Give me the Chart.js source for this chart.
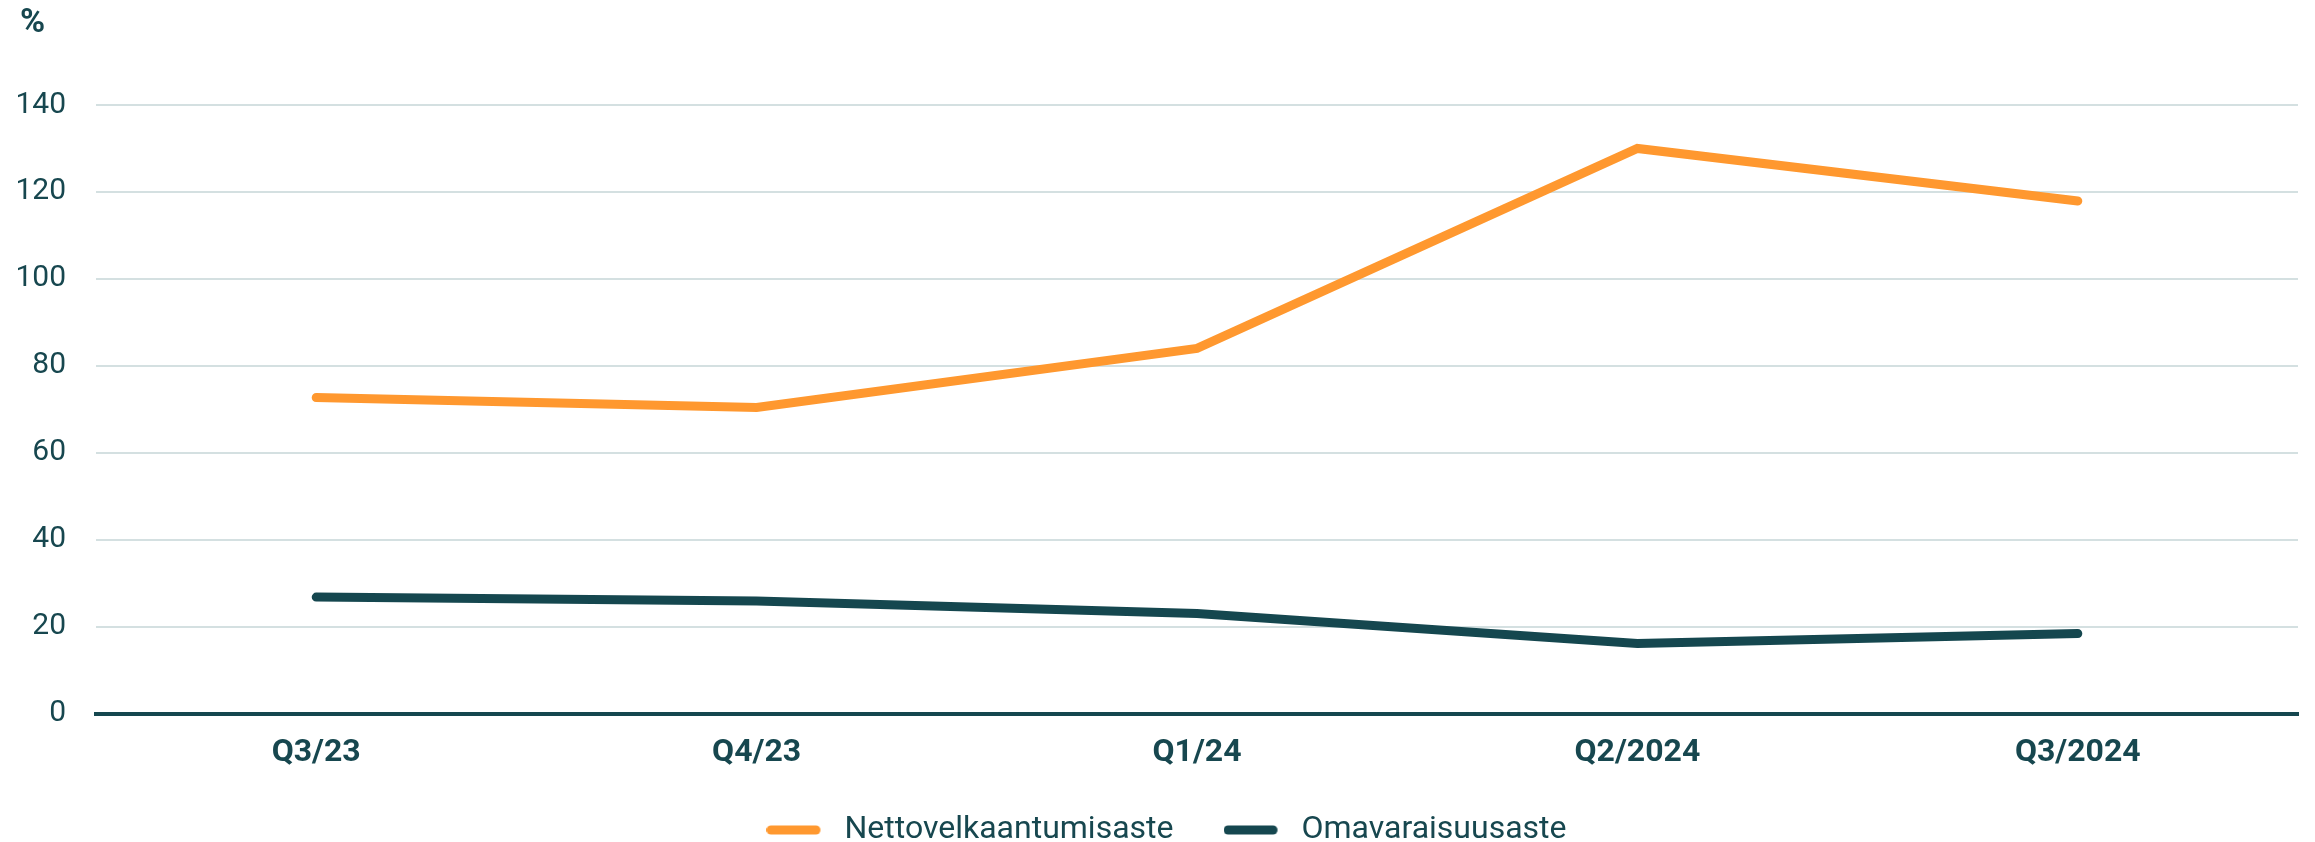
<!DOCTYPE html>
<html>
<head>
<meta charset="utf-8">
<script src="https://cdn.jsdelivr.net/npm/chart.js@4.4.1/dist/chart.umd.min.js"></script>
<style>
  html, body { margin: 0; padding: 0; background: #ffffff; }
  #wrap { width: 2315px; height: 842px; position: relative; }
</style>
</head>
<body>
<div id="wrap"><canvas id="c" width="2315" height="842"></canvas></div>
<script>
const categories = ["Q3/23", "Q4/23", "Q1/24", "Q2/2024", "Q3/2024"];
const nettovelkaantumisaste = [72.7, 70.4, 84.0, 130.0, 117.9];
const omavaraisuusaste = [26.8, 25.9, 23.0, 16.1, 18.4];
const yTicks = [0, 20, 40, 60, 80, 100, 120, 140];
const unitLabel = "%";

const ORANGE = "#FF982F";
const DARK = "#15474F";
const TEXT = "#17474F";
const GRID = "#D4E0E1";

// legend swatch: rounded bar followed by a little blank space before the text
function swatch(color) {
  const cv = document.createElement("canvas");
  cv.width = 62; cv.height = 10;
  const g = cv.getContext("2d");
  g.strokeStyle = color;
  g.lineWidth = 9;
  g.lineCap = "round";
  g.beginPath();
  g.moveTo(4.5, 5);
  g.lineTo(49.5, 5);
  g.stroke();
  return cv;
}

const unitPlugin = {
  id: "unitLabel",
  afterLayout(chart) {
    // nudge the legend row so its item spacing can stay wide
    if (chart.legend) {
      chart.legend.top -= 28;
      chart.legend.bottom -= 28;
      chart.legend.left += 10;
      chart.legend.right += 10;
    }
  },
  afterDraw(chart) {
    const ctx = chart.ctx;
    ctx.save();
    ctx.fillStyle = TEXT;
    ctx.font = "bold 34px Roboto";
    ctx.textAlign = "left";
    ctx.textBaseline = "alphabetic";
    ctx.fillText(unitLabel, 20, 32);
    ctx.restore();
  }
};

new Chart(document.getElementById("c"), {
  type: "line",
  data: {
    labels: categories,
    datasets: [
      {
        label: "Nettovelkaantumisaste",
        data: nettovelkaantumisaste,
        borderColor: ORANGE,
        backgroundColor: ORANGE,
        borderWidth: 9,
        borderCapStyle: "round",
        borderJoinStyle: "miter",
        pointRadius: 0,
        tension: 0
      },
      {
        label: "Omavaraisuusaste",
        data: omavaraisuusaste,
        borderColor: DARK,
        backgroundColor: DARK,
        borderWidth: 9,
        borderCapStyle: "round",
        borderJoinStyle: "miter",
        pointRadius: 0,
        tension: 0
      }
    ]
  },
  options: {
    responsive: false,
    animation: false,
    devicePixelRatio: 1,
    layout: { padding: { left: 15, right: 17, top: 105, bottom: -24 } },
    plugins: {
      tooltip: { enabled: false },
      legend: {
        position: "bottom",
        align: "center",
        maxHeight: 74,
        labels: {
          color: TEXT,
          font: { family: "Roboto", size: 32 },
          usePointStyle: true,
          pointStyleWidth: 62,
          boxHeight: 10,
          padding: 50,
          generateLabels(chart) {
            const items = Chart.defaults.plugins.legend.labels.generateLabels(chart);
            items.forEach(it => {
              const ds = chart.data.datasets[it.datasetIndex];
              it.pointStyle = swatch(ds.borderColor);
              it.lineWidth = 0;
              it.strokeStyle = "rgba(0,0,0,0)";
            });
            return items;
          }
        }
      }
    },
    scales: {
      x: {
        offset: true,
        grid: { display: false, drawTicks: false },
        border: { display: true, color: DARK, width: 4 },
        ticks: {
          color: TEXT,
          font: { family: "Roboto", size: 32, weight: "bold" },
          padding: 20,
          maxRotation: 0
        }
      },
      y: {
        min: 0,
        max: 140,
        afterBuildTicks(scale) { scale.ticks = yTicks.map(v => ({ value: v })); },
        afterFit(scale) { scale.width = 81; },
        grid: { color: GRID, lineWidth: 2, drawTicks: false },
        border: { display: false },
        ticks: {
          color: TEXT,
          font: { family: "Roboto", size: 30 },
          padding: 30
        }
      }
    }
  },
  plugins: [unitPlugin]
});
</script>
</body>
</html>
